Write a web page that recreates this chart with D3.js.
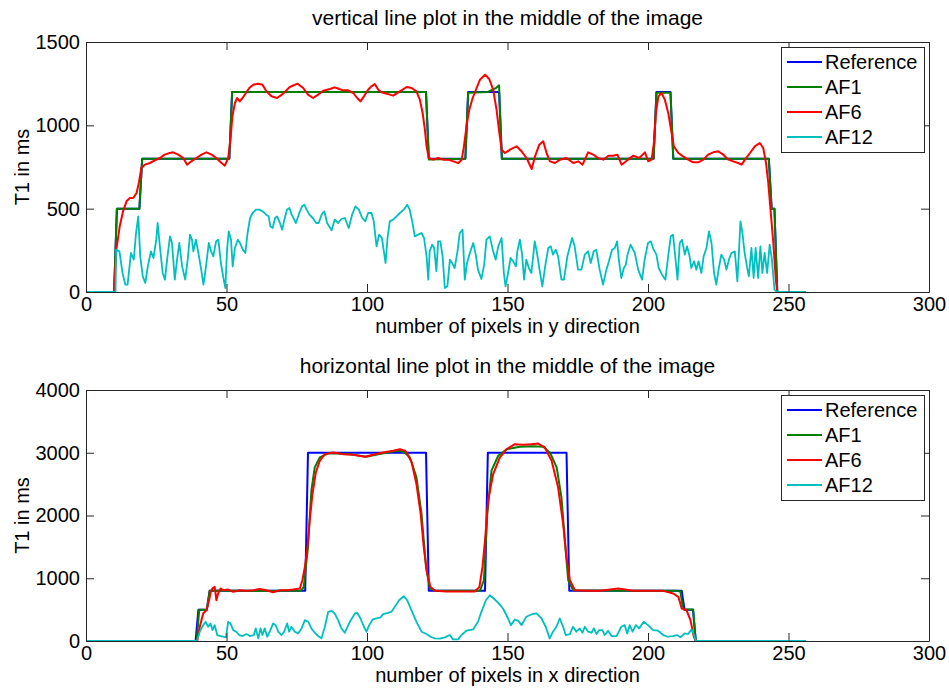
<!DOCTYPE html>
<html>
<head>
<meta charset="utf-8">
<script src="https://cdn.jsdelivr.net/npm/d3@7"></script>
<style>
  body { margin: 0; background: #fff; }
  svg text { font-family: "Liberation Sans", Arial, sans-serif; fill: #000; }
</style>
</head>
<body>
<svg id="chart" width="949" height="688"></svg>
<script>
// series names, in legend order
let seriesNames = ['Reference', 'AF1', 'AF6', 'AF12'];
let seriesColors = ['#0000ff', '#008000', '#ff0000', '#00bfbf'];

let xTicks = [0, 50, 100, 150, 200, 250, 300];
let topYTicks = [0, 500, 1000, 1500];
let bottomYTicks = [0, 1000, 2000, 3000, 4000];

// vertical line profile, [pixel, T1 ms]
let topReference = [[0,0],[10,0],[11,500],[19,500],[20,800],[51,800],[52,1200],[121,1200],[122,800],[135,800],[136,1200],[147,1200],[148,800],[202,800],[203,1200],[208,1200],[209,800],[243,800],[244,500],[245,500],[246,0],[256,0]];

let topAF1 = [[0,0],[10,0],[11,500],[19,500],[20,800],[51,800],[52,1200],[121,1200],[122,795],[135,800],[136,1195],[143,1200],[146,1225],[147,1240],[148,800],[202,800],[203,1195],[208,1195],[209,800],[243,800],[244,500],[245,500],[246,0],[256,0]];

let topAF6 = [[0,0],[10,0],[10.8,254],[12,394],[13.2,484],[14.4,544],[15.6,564],[16.8,564],[18,594],[18.8,654],[19.7,744],[20.9,764],[22.7,774],[24.5,790],[26.3,804],[28,824],[29.8,834],[31,838],[32.8,824],[34.6,804],[36,764],[37.5,784],[39.3,804],[41.1,824],[42.9,838],[44.7,824],[46.4,804],[48.2,774],[49.4,758],[50.6,804],[51.4,914],[52.1,1054],[53,1134],[53.8,1164],[54.7,1144],[55.7,1164],[56.9,1194],[58.1,1224],[59.5,1244],[61.3,1250],[62.8,1244],[64.2,1204],[66,1174],[68,1164],[70.2,1190],[72.5,1230],[75.3,1250],[77.3,1224],[79,1184],[80.8,1164],[82.6,1184],[84.4,1208],[86.8,1218],[88.5,1228],[90.1,1218],[91.5,1210],[93.3,1210],[95.1,1194],[96.5,1164],[97.7,1144],[98.9,1174],[100.4,1214],[101.6,1234],[102.8,1248],[104,1214],[105.2,1198],[107,1190],[109.3,1178],[111.7,1204],[114.1,1230],[115.9,1224],[117.6,1204],[118.8,1154],[119.8,1074],[120.6,974],[121.2,874],[122,804],[123.6,794],[125.4,804],[127.1,794],[128.9,794],[130.7,784],[132.5,774],[133.7,794],[134.5,874],[135.4,994],[136.4,1094],[137.6,1164],[139,1224],[140.2,1274],[142,1304],[143.5,1278],[144.9,1214],[146.1,1094],[147.1,954],[147.9,854],[149.1,834],[150.9,854],[153.2,874],[155,844],[156.8,804],[158.6,738],[159.8,814],[161.3,884],[162.7,904],[163.9,834],[165.1,784],[166.9,774],[168.7,794],[171,804],[173.4,774],[175.2,784],[176.7,764],[178.7,838],[180.5,824],[182.3,804],[184.1,794],[185.9,818],[187.6,818],[189.1,824],[190.6,764],[192.4,788],[194.8,818],[196.9,804],[198.9,838],[200.1,784],[201.3,794],[202.1,894],[202.8,1074],[203.7,1174],[204.8,1194],[206,1154],[207.2,1074],[208.4,954],[209.2,874],[210.8,834],[212.5,814],[214.3,794],[216.1,778],[217.9,778],[219.7,794],[221.4,824],[223.2,838],[225,844],[226.8,824],[228.6,794],[230.3,784],[232.1,774],[233.3,764],[234.5,794],[236.3,834],[238,874],[239.8,894],[241,864],[242,774],[242.8,654],[243.6,494],[244.6,294],[245.5,74],[246,0],[256,0]];

let topAF12 = [[0,0],[10.5,0],[10.7,254],[11.9,244],[13,114],[14,44],[14.8,44],[16,234],[17,194],[17.8,354],[18.6,454],[19.3,214],[20.2,94],[21.1,54],[22,154],[23.1,244],[24,204],[25,314],[25.5,414],[26.3,274],[27.3,114],[28.1,74],[29,214],[29.9,334],[30.6,294],[31.6,74],[32.4,194],[33.2,294],[34.2,154],[35.3,74],[36.2,194],[37,344],[37.7,314],[38.2,244],[39.1,314],[40,234],[41,134],[41.8,44],[42.7,154],[43.7,294],[44.5,244],[45.3,214],[46.3,304],[47.1,314],[48,174],[48.9,84],[49.6,24],[50.2,254],[50.8,364],[51.6,314],[52.2,154],[53,264],[54,314],[54.8,294],[55.8,254],[56.7,234],[57.5,354],[58.4,444],[59.3,474],[60.5,494],[61.7,494],[62.9,484],[64.1,464],[65,454],[65.6,394],[66.4,384],[67.3,444],[68,454],[68.8,424],[69.8,374],[70.6,434],[71.5,494],[72.4,504],[73.2,464],[74.1,434],[74.7,414],[75.9,474],[76.9,514],[77.7,524],[78.5,494],[79.5,464],[80.7,444],[81.9,414],[82.8,414],[84,470],[84.8,484],[85.8,414],[87.4,370],[88.5,434],[89.7,414],[90.9,438],[92.1,444],[93.5,384],[94.7,464],[95.9,514],[97.1,494],[98.3,444],[99.4,424],[100.4,474],[101.6,474],[102.4,424],[103.4,274],[104.3,344],[105.3,324],[106.6,174],[107.3,324],[108.1,424],[109.3,434],[110.5,454],[111.7,474],[113.1,494],[114.3,524],[115.2,494],[116.2,414],[117,334],[118.2,344],[119.4,354],[120.3,324],[121.2,214],[121.8,74],[122.3,244],[123.2,284],[123.9,264],[124.7,124],[125.3,304],[126.1,304],[126.9,214],[127.7,24],[128.6,34],[129.5,194],[130.3,174],[131.2,144],[132.2,244],[133,354],[134,374],[134.8,74],[135.6,174],[136.6,234],[137.8,294],[138.7,224],[139.5,134],[140.7,78],[141.7,164],[142.5,314],[143.7,334],[144.9,244],[145.8,194],[146.7,274],[147.9,324],[148.7,114],[149.3,34],[150.2,114],[151.1,204],[152,184],[153,154],[153.5,244],[154.4,314],[155.2,224],[155.9,74],[156.7,194],[157.6,144],[158.5,114],[159.7,304],[160.5,234],[161.5,124],[162.4,34],[163.5,164],[164.5,264],[165.4,274],[166.2,224],[167.2,254],[168,214],[169.2,74],[170.1,74],[171.3,214],[173,324],[173.9,274],[175.1,134],[176.3,134],[177.5,224],[178.7,244],[179.6,174],[180.7,244],[181.6,254],[182.8,134],[184,44],[185.2,134],[186.1,184],[187.2,254],[188.2,264],[189,304],[189.7,184],[190.5,84],[191.4,144],[192.1,164],[192.7,224],[193.8,284],[195.3,234],[196.5,134],[197.9,74],[198.8,194],[200,294],[201,304],[202,254],[203,224],[203.8,144],[205,104],[206.2,74],[207.1,204],[208.1,334],[208.9,344],[209.7,214],[210.5,74],[211.3,294],[212.1,314],[213.1,224],[213.9,274],[214.8,214],[215.4,144],[216.4,184],[217.2,134],[218,184],[219,114],[219.8,214],[220.8,264],[221.7,364],[222.6,294],[223.5,114],[224.3,44],[225.2,144],[226.1,224],[227.1,194],[227.9,134],[228.8,194],[229.7,234],[230.9,244],[231.8,64],[232.4,254],[232.9,424],[233.6,354],[234.4,234],[235.2,154],[235.9,94],[236.8,264],[237.6,84],[238.3,264],[239.2,84],[240,274],[240.7,114],[241.5,234],[242.4,114],[243.3,284],[244.1,194],[245,14],[245.9,0],[256,0]];

// horizontal line profile, [pixel, T1 ms]
let bottomReference = [[0,0],[39,0],[40,500],[43,500],[44,800],[78,800],[79,3000],[121,3000],[122,800],[142,800],[143,3000],[171,3000],[172,800],[212,800],[213,500],[216,500],[217,0],[256,0]];

let bottomAF1 = [[0,0],[39.4,0],[40.3,500],[43,500],[44,800],[50,805],[60,795],[70,800],[76.5,800],[77.5,862],[79,1497],[80.2,2396],[81.4,2767],[83.2,2925],[86.2,2989],[89.1,2989],[94,2975],[99.8,2936],[104,2975],[109.3,3020],[111.7,3031],[113.5,3000],[115.3,2925],[117.6,2608],[119.4,2026],[121,1180],[122.4,836],[124.7,799],[140.2,799],[141.6,968],[142.8,2026],[144.3,2714],[146.7,2952],[149.7,3057],[154.4,3095],[159.1,3105],[162.7,3095],[165.1,3005],[167.5,2767],[169.2,2290],[170.4,1603],[171.6,968],[173.4,809],[190,800],[210.2,800],[211.5,790],[212.3,560],[212.8,502],[216.1,502],[217,0],[256,0]];

let bottomAF6 = [[0,0],[39.6,0],[40.5,227],[41.7,439],[42.9,492],[43.8,650],[44.4,783],[45,836],[45.8,862],[46.4,650],[47,756],[47.9,836],[49,809],[50.6,820],[52.4,783],[54.7,809],[57.1,799],[59.5,809],[61.8,830],[64.2,809],[66.6,778],[69,809],[71.3,809],[73.7,820],[76.1,836],[77,968],[77.9,1180],[78.8,1497],[79.6,1920],[80.6,2343],[81.8,2687],[83.2,2872],[85,2978],[88,3005],[91.5,2978],[95.1,2968],[99.2,2936],[102.2,2968],[105.7,3005],[109.3,3031],[111.7,3055],[113.5,3031],[114.1,3005],[115.9,2846],[117.6,2502],[119.1,2026],[120.2,1497],[121.4,1074],[122.6,862],[124.2,799],[128.3,788],[133.1,788],[138.4,788],[140,862],[141.1,1180],[142,1603],[143.1,2238],[144.9,2661],[147.3,2925],[149.7,3057],[152.6,3137],[155.6,3126],[158.6,3137],[160.9,3147],[163.3,3084],[165.7,2872],[168,2449],[169.8,1867],[171,1338],[172.2,968],[174,809],[178.1,799],[182.9,799],[189.4,836],[194.7,799],[199.5,799],[205.4,799],[209,757],[210.8,704],[212,518],[213.7,492],[215.1,333],[216.3,69],[217,0],[256,0]];

let bottomAF12 = [[0,0],[39.4,0],[40.5,148],[41.7,253],[42.6,306],[43.5,227],[44.3,280],[45,174],[45.8,253],[46.7,95],[47.9,79],[48.8,68],[49.8,58],[50.6,306],[51.4,280],[52.4,174],[53.5,148],[54.5,95],[55.7,79],[57.1,111],[58.3,79],[59.7,95],[60.4,201],[61.3,42],[62.1,201],[62.8,95],[63.6,201],[64.5,68],[65.4,148],[66.6,280],[67.5,253],[68.4,148],[69.6,95],[70.5,148],[71.6,280],[72.3,148],[73.1,227],[74.3,148],[75.5,121],[76.7,201],[77.9,333],[79.1,306],[80.2,201],[81.4,132],[82.6,79],[83.8,42],[85,227],[86.2,465],[87.4,481],[88.5,439],[89.7,333],[90.9,201],[92.1,132],[93.9,306],[95.7,439],[96.5,449],[97.7,359],[98.9,227],[99.8,148],[100.8,253],[102,343],[103.4,359],[104.8,375],[105.7,428],[107.5,449],[108.7,465],[109.9,544],[111.4,650],[113.1,714],[114.3,650],[115.8,492],[117.6,306],[119.4,148],[121.2,111],[122.6,68],[124.1,42],[125.9,37],[127.7,58],[129.5,95],[130.6,26],[132.4,26],[133.6,95],[135.4,164],[137.8,185],[139.5,306],[140.7,465],[142.3,650],[143.7,730],[145.1,677],[146.7,608],[148.4,518],[150.2,359],[151.2,253],[152.6,343],[153.8,322],[155,253],[156.7,386],[158.5,423],[160.3,439],[162.1,359],[163.6,227],[165,42],[166.2,148],[167.4,227],[168.6,359],[169.8,227],[170.7,95],[172.2,111],[173.3,227],[174.5,148],[175.7,201],[176.7,132],[177.5,227],[178.7,148],[179.9,132],[180.7,201],[181.7,111],[182.6,174],[183.8,174],[184.6,95],[185.8,164],[187,79],[188.8,79],[190.5,227],[191.7,253],[192.6,121],[193.5,253],[194.5,148],[195.7,253],[196.8,201],[198.5,306],[200,253],[201.8,174],[203.6,164],[205.4,95],[207.1,68],[208.9,79],[210.4,95],[211.5,58],[213.1,121],[214.3,111],[215.5,185],[216.4,95],[217,0],[256,0]];

let panels = [
  { top: 42, bottom: 292, yMax: 1500, yTicks: topYTicks,
    title: 'vertical line plot in the middle of the image',
    xLabel: 'number of pixels in y direction',
    series: [topReference, topAF1, topAF6, topAF12] },
  { top: 390, bottom: 641, yMax: 4000, yTicks: bottomYTicks,
    title: 'horizontal line plot in the middle of the image',
    xLabel: 'number of pixels in x direction',
    series: [bottomReference, bottomAF1, bottomAF6, bottomAF12] }
];

let left = 86;
let right = 929;
let fontSize = 20;
let titleSize = 21;

let svg = d3.select('#chart');

let xScale = d3.scaleLinear().domain([0, 300]).range([left, right]);

panels.forEach((p, i) => {
  let yScale = d3.scaleLinear().domain([0, p.yMax]).range([p.bottom, p.top]);

  svg.append('clipPath')
    .attr('id', 'clip' + i)
    .append('rect')
    .attr('x', left).attr('y', p.top)
    .attr('width', right - left).attr('height', p.bottom - p.top);

  let line = d3.line()
    .x(d => xScale(d[0]))
    .y(d => yScale(d[1]));

  let g = svg.append('g').attr('clip-path', 'url(#clip' + i + ')');
  p.series.forEach((s, k) => {
    g.append('path')
      .attr('d', line(s))
      .attr('fill', 'none')
      .attr('stroke', seriesColors[k])
      .attr('stroke-width', k == 3 ? 1.8 : 2)
      .attr('stroke-linejoin', 'round');
  });

  // axes: ticks point inward, labels only bottom and left
  let xAxis = d3.axisBottom(xScale).tickValues(xTicks).tickFormat(d3.format('d'))
    .tickSizeInner(-8).tickSizeOuter(0).tickPadding(5);
  let xAxisTop = d3.axisTop(xScale).tickValues(xTicks).tickSizeInner(-8).tickSizeOuter(0).tickFormat('');
  let yAxis = d3.axisLeft(yScale).tickValues(p.yTicks).tickFormat(d3.format('d'))
    .tickSizeInner(-8).tickSizeOuter(0).tickPadding(6);
  let yAxisRight = d3.axisRight(yScale).tickValues(p.yTicks).tickSizeInner(-8).tickSizeOuter(0).tickFormat('');

  let axes = [
    [xAxis, 'translate(0,' + p.bottom + ')'],
    [xAxisTop, 'translate(0,' + p.top + ')'],
    [yAxis, 'translate(' + left + ',0)'],
    [yAxisRight, 'translate(' + right + ',0)']
  ];
  axes.forEach(a => {
    let ax = svg.append('g').attr('transform', a[1]).call(a[0]);
    ax.attr('font-size', fontSize).attr('font-family', '"Liberation Sans", Arial, sans-serif');
    ax.selectAll('path, line').attr('stroke', '#262626');
  });

  svg.append('text')
    .attr('x', (left + right) / 2)
    .attr('y', p.top - 17)
    .style('text-anchor', 'middle')
    .style('font-size', titleSize + 'px')
    .text(p.title);

  svg.append('text')
    .attr('x', (left + right) / 2)
    .attr('y', p.bottom + 41)
    .style('text-anchor', 'middle')
    .style('font-size', fontSize + 'px')
    .text(p.xLabel);

  svg.append('text')
    .attr('transform', 'rotate(-90)')
    .attr('x', -(p.top + p.bottom) / 2)
    .attr('y', 29)
    .style('text-anchor', 'middle')
    .style('font-size', fontSize + 'px')
    .text('T1 in ms');

  // legend
  let lx = 781, ly = p.top + 5;
  let legend = svg.append('g');
  legend.append('rect')
    .attr('x', lx + 0.5).attr('y', ly + 0.5)
    .attr('width', 143).attr('height', 105)
    .attr('fill', '#fff').attr('stroke', '#262626');
  seriesNames.forEach((name, k) => {
    let cy = ly + 15 + k * 25;
    legend.append('line')
      .attr('x1', lx + 6).attr('x2', lx + 41)
      .attr('y1', cy).attr('y2', cy)
      .attr('stroke', seriesColors[k]).attr('stroke-width', 2);
    legend.append('text')
      .attr('x', lx + 44).attr('y', cy)
      .attr('dy', '0.35em')
      .style('font-size', fontSize + 'px')
      .text(name);
  });
});
</script>
</body>
</html>
